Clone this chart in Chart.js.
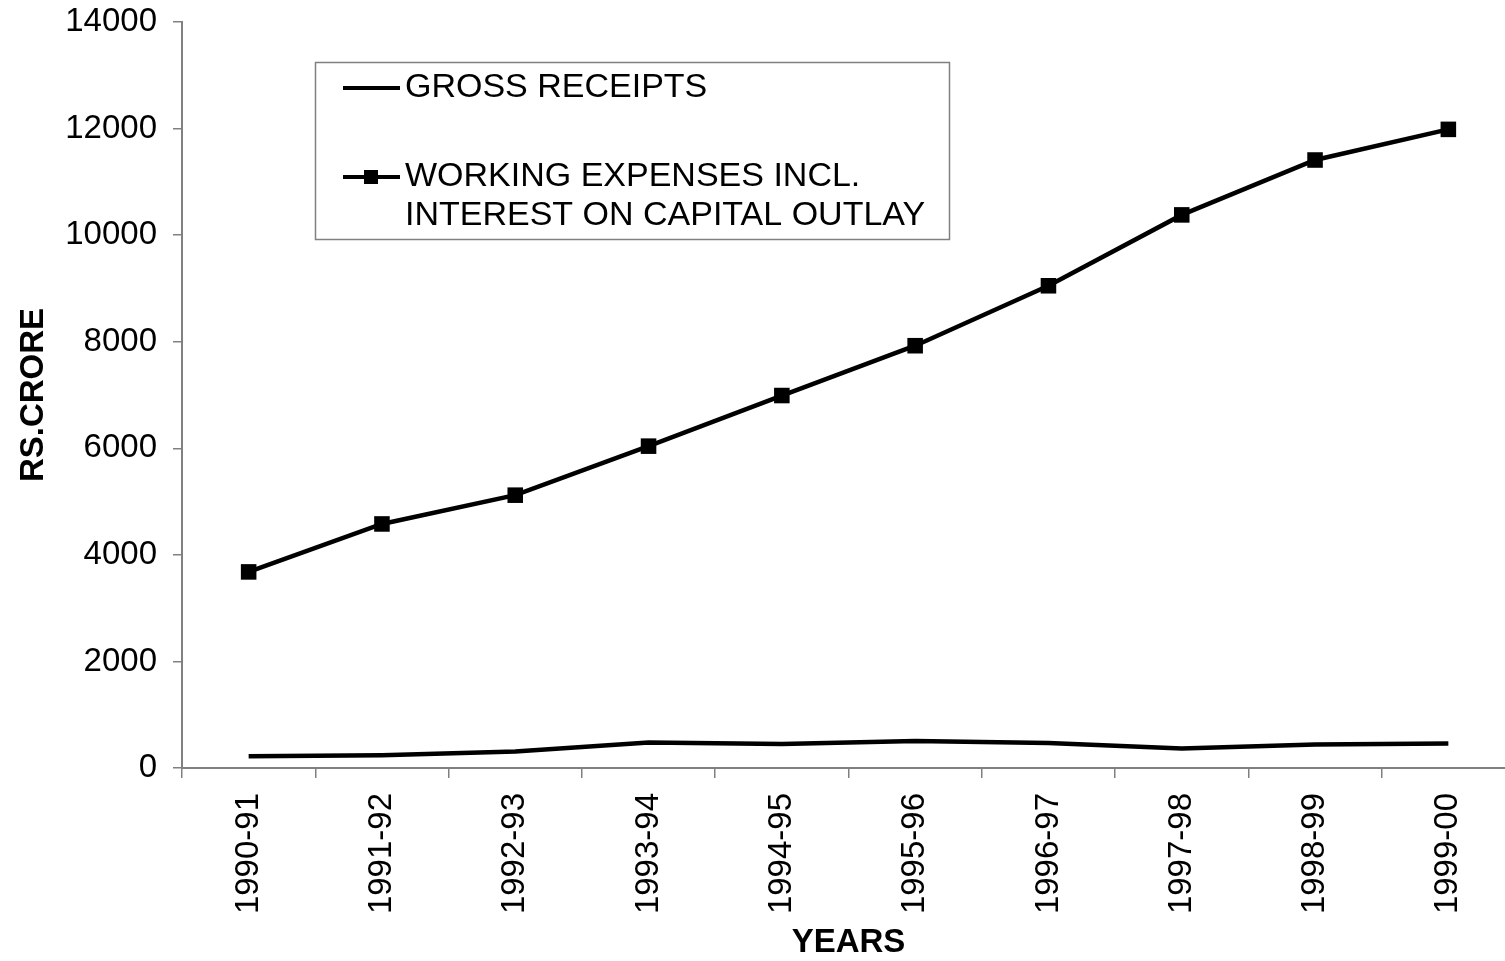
<!DOCTYPE html>
<html>
<head>
<meta charset="utf-8">
<script src="https://cdn.jsdelivr.net/npm/chart.js@4/dist/chart.umd.min.js"></script>
<style>
  html, body { margin: 0; padding: 0; background: #fff; overflow: hidden; }
  #wrap { position: relative; width: 1526px; height: 961px; }
</style>
</head>
<body>
<div id="wrap"><canvas id="myChart"></canvas></div>
<script>
// Datos del gráfico
const years = ['1990-91', '1991-92', '1992-93', '1993-94', '1994-95', '1995-96', '1996-97', '1997-98', '1998-99', '1999-00'];
const grossReceipts = [220, 240, 310, 480, 450, 505, 470, 365, 440, 460];
const workingExpenses = [3680, 4580, 5120, 6040, 6990, 7925, 9050, 10380, 11410, 11985];
const legendLines = [
    ['GROSS RECEIPTS'],
    ['WORKING EXPENSES INCL.', 'INTEREST ON CAPITAL OUTLAY']
];
const yTicks = [0, 2000, 4000, 6000, 8000, 10000, 12000, 14000];

const FONT = '"Liberation Sans", Arial, sans-serif';
const AXIS_GREY = '#808080';

// Leyenda dibujada a mano (caja con borde, texto en dos líneas)
const boxLegend = {
    id: 'boxLegend',
    afterDraw(chart) {
        const c = chart.ctx;
        c.save();
        c.strokeStyle = AXIS_GREY;
        c.lineWidth = 1.5;
        c.strokeRect(315.5, 62.5, 634, 177);
        c.font = '34px ' + FONT;
        c.fillStyle = '#000';
        c.textBaseline = 'middle';
        const rows = [88, 177];
        chart.data.datasets.forEach((ds, i) => {
            const y = rows[i];
            c.strokeStyle = '#000';
            c.lineWidth = 4;
            c.beginPath();
            c.moveTo(343, y);
            c.lineTo(400, y);
            c.stroke();
            if (ds.pointRadius > 0) {
                c.fillRect(364, y - 7, 14, 14);
            }
            legendLines[i].forEach((txt, j) => {
                c.fillText(txt, 405, y + j * 39);
            });
        });
        c.restore();
    }
};

const ctx = document.getElementById('myChart').getContext('2d');
const chart = new Chart(ctx, {
    type: 'line',
    data: {
        labels: years,
        datasets: [{
            label: legendLines[0].join(' '),
            data: grossReceipts,
            borderColor: '#000',
            backgroundColor: '#000',
            borderWidth: 4.5,
            pointRadius: 0,
            tension: 0
        }, {
            label: legendLines[1].join(' '),
            data: workingExpenses,
            borderColor: '#000',
            backgroundColor: '#000',
            borderWidth: 4.5,
            pointStyle: 'rect',
            pointRadius: 11,
            pointBorderWidth: 0,
            tension: 0
        }]
    },
    options: {
        responsive: true,
        maintainAspectRatio: false,
        animation: false,
        layout: { padding: { top: 22, right: 5, left: 0, bottom: 0 } },
        plugins: {
            legend: { display: false },
            tooltip: { enabled: false }
        },
        scales: {
            x: {
                offset: true,
                grid: {
                    offset: true,
                    drawOnChartArea: false,
                    drawTicks: true,
                    tickLength: 10,
                    color: AXIS_GREY,
                    lineWidth: 1.5
                },
                border: { color: AXIS_GREY, width: 2 },
                ticks: {
                    color: '#000',
                    font: { family: FONT, size: 33 },
                    minRotation: 90,
                    maxRotation: 90,
                    padding: 15,
                    autoSkip: false
                },
                title: {
                    display: true,
                    text: 'YEARS',
                    color: '#000',
                    font: { family: FONT, size: 33, weight: 'bold', lineHeight: 1 },
                    padding: { top: 0, bottom: 2 }
                },
                afterFit(scale) { scale.height = 193; }
            },
            y: {
                min: 0,
                max: 14000,
                afterBuildTicks(scale) { scale.ticks = yTicks.map(v => ({ value: v })); },
                grid: {
                    drawOnChartArea: false,
                    drawTicks: true,
                    tickLength: 9,
                    color: AXIS_GREY,
                    lineWidth: 1.5
                },
                border: { color: AXIS_GREY, width: 2 },
                ticks: {
                    color: '#000',
                    font: { family: FONT, size: 33 },
                    padding: 16,
                    callback: v => String(v)
                },
                title: {
                    display: true,
                    text: 'RS.CRORE',
                    color: '#000',
                    font: { family: FONT, size: 33, weight: 'bold', lineHeight: 1 },
                    padding: { top: 17, bottom: 0 }
                },
                afterFit(scale) {
                    scale.width = 182;
                    scale.paddingTop = 0;
                    scale.paddingBottom = 0;
                }
            }
        }
    },
    plugins: [boxLegend]
});
</script>
</body>
</html>
